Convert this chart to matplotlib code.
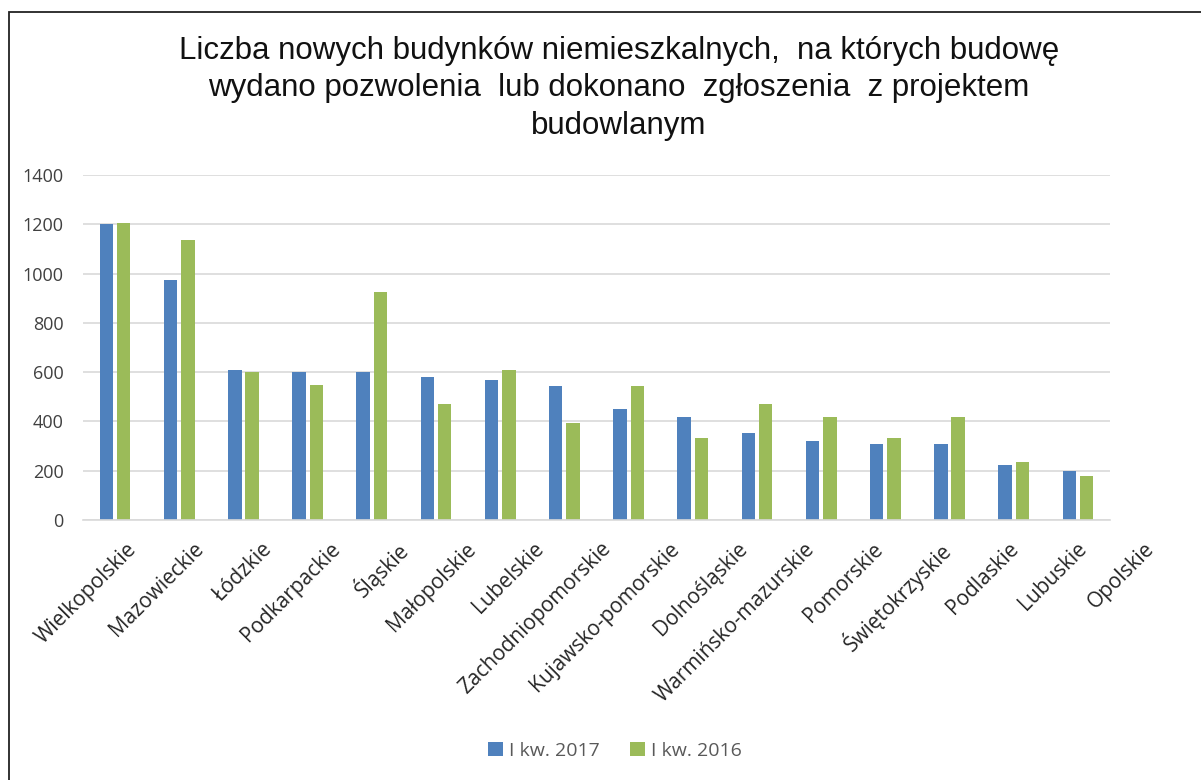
import matplotlib
matplotlib.use("Agg")
import matplotlib.pyplot as plt
from matplotlib.patches import Rectangle
import numpy as np

regions = ["Wielkopolskie", "Mazowieckie", "Łódzkie", "Podkarpackie", "Śląskie",
           "Małopolskie", "Lubelskie", "Zachodniopomorskie", "Kujawsko-pomorskie",
           "Dolnośląskie", "Warmińsko-mazurskie", "Pomorskie", "Świętokrzyskie",
           "Podlaskie", "Lubuskie", "Opolskie"]
q1_2017 = [1200, 973, 607, 602, 602, 582, 568, 542, 452, 419, 354, 321, 308, 308, 225, 199]
q1_2016 = [1207, 1135, 602, 549, 927, 471, 607, 392, 542, 334, 471, 419, 334, 419, 237, 179]
series_names = ["I kw. 2017", "I kw. 2016"]
yticks = [0, 200, 400, 600, 800, 1000, 1200, 1400]

title = ("Liczba nowych budynków niemieszkalnych,  na których budowę\n"
         "wydano pozwolenia  lub dokonano  zgłoszenia  z projektem\n"
         "budowlanym")

blue = "#4f81bd"
green = "#9bbb59"
label_font = ["Open Sans", "DejaVu Sans"]

W, H = 1201, 780
fig = plt.figure(figsize=(W / 100, H / 100), dpi=100)
fig.patch.set_facecolor("white")

# frame of the chart object (right/bottom edges fall outside the picture)
fig.patches.append(Rectangle((9 / W, -0.1), 1.2, (H - 12) / H + 0.1,
                             transform=fig.transFigure, fill=False,
                             edgecolor="#222222", linewidth=1.3))

ax = fig.add_axes([83 / W, 1 - 520 / H, (1110 - 83) / W, (520 - 175) / H])
x = np.arange(len(regions))
w = 0.21
ax.bar(x - 0.135, q1_2017, width=w, color=blue, label=series_names[0])
ax.bar(x + 0.135, q1_2016, width=w, color=green, label=series_names[1])

ax.set_xlim(-0.5, len(regions) - 0.5)
ax.set_ylim(0, 1400)
ax.set_yticks(yticks)
ax.set_yticklabels([str(v) for v in yticks], fontsize=13, color="#404040",
                   family=label_font)
ax.yaxis.grid(True, color="#d9d9d9", linewidth=1.2)
ax.set_axisbelow(True)
for s in ["top", "right", "left"]:
    ax.spines[s].set_visible(False)
ax.spines["bottom"].set_color("#d9d9d9")
ax.spines["bottom"].set_linewidth(1.2)
ax.tick_params(axis="both", length=0)
ax.tick_params(axis="y", pad=14)

# category labels: in the original they are spread a little wider than the bars
ax.set_xticks([])
label_pos = 0.28 + 1.0577 * x
for xp, name in zip(label_pos, regions):
    ax.text(xp, -0.075, name, transform=ax.get_xaxis_transform(),
            rotation=45, ha="right", va="center", rotation_mode="anchor",
            fontsize=15, color="#262626", family=label_font, clip_on=False)

fig.text(619 / W, 1 - 36 / H, title, ha="center", va="top", fontsize=22.5,
         family=["Liberation Sans", "DejaVu Sans"],
         linespacing=1.32, color="#111111")

fig.legend(loc="center", bbox_to_anchor=(615 / W, 1 - 751 / H), ncol=2,
           frameon=False, handlelength=0.75, handleheight=0.75, handletextpad=0.3,
           columnspacing=1.6, prop={"family": label_font, "size": 14},
           labelcolor="#595959")

fig.savefig("out.png", dpi=100, facecolor="white")
